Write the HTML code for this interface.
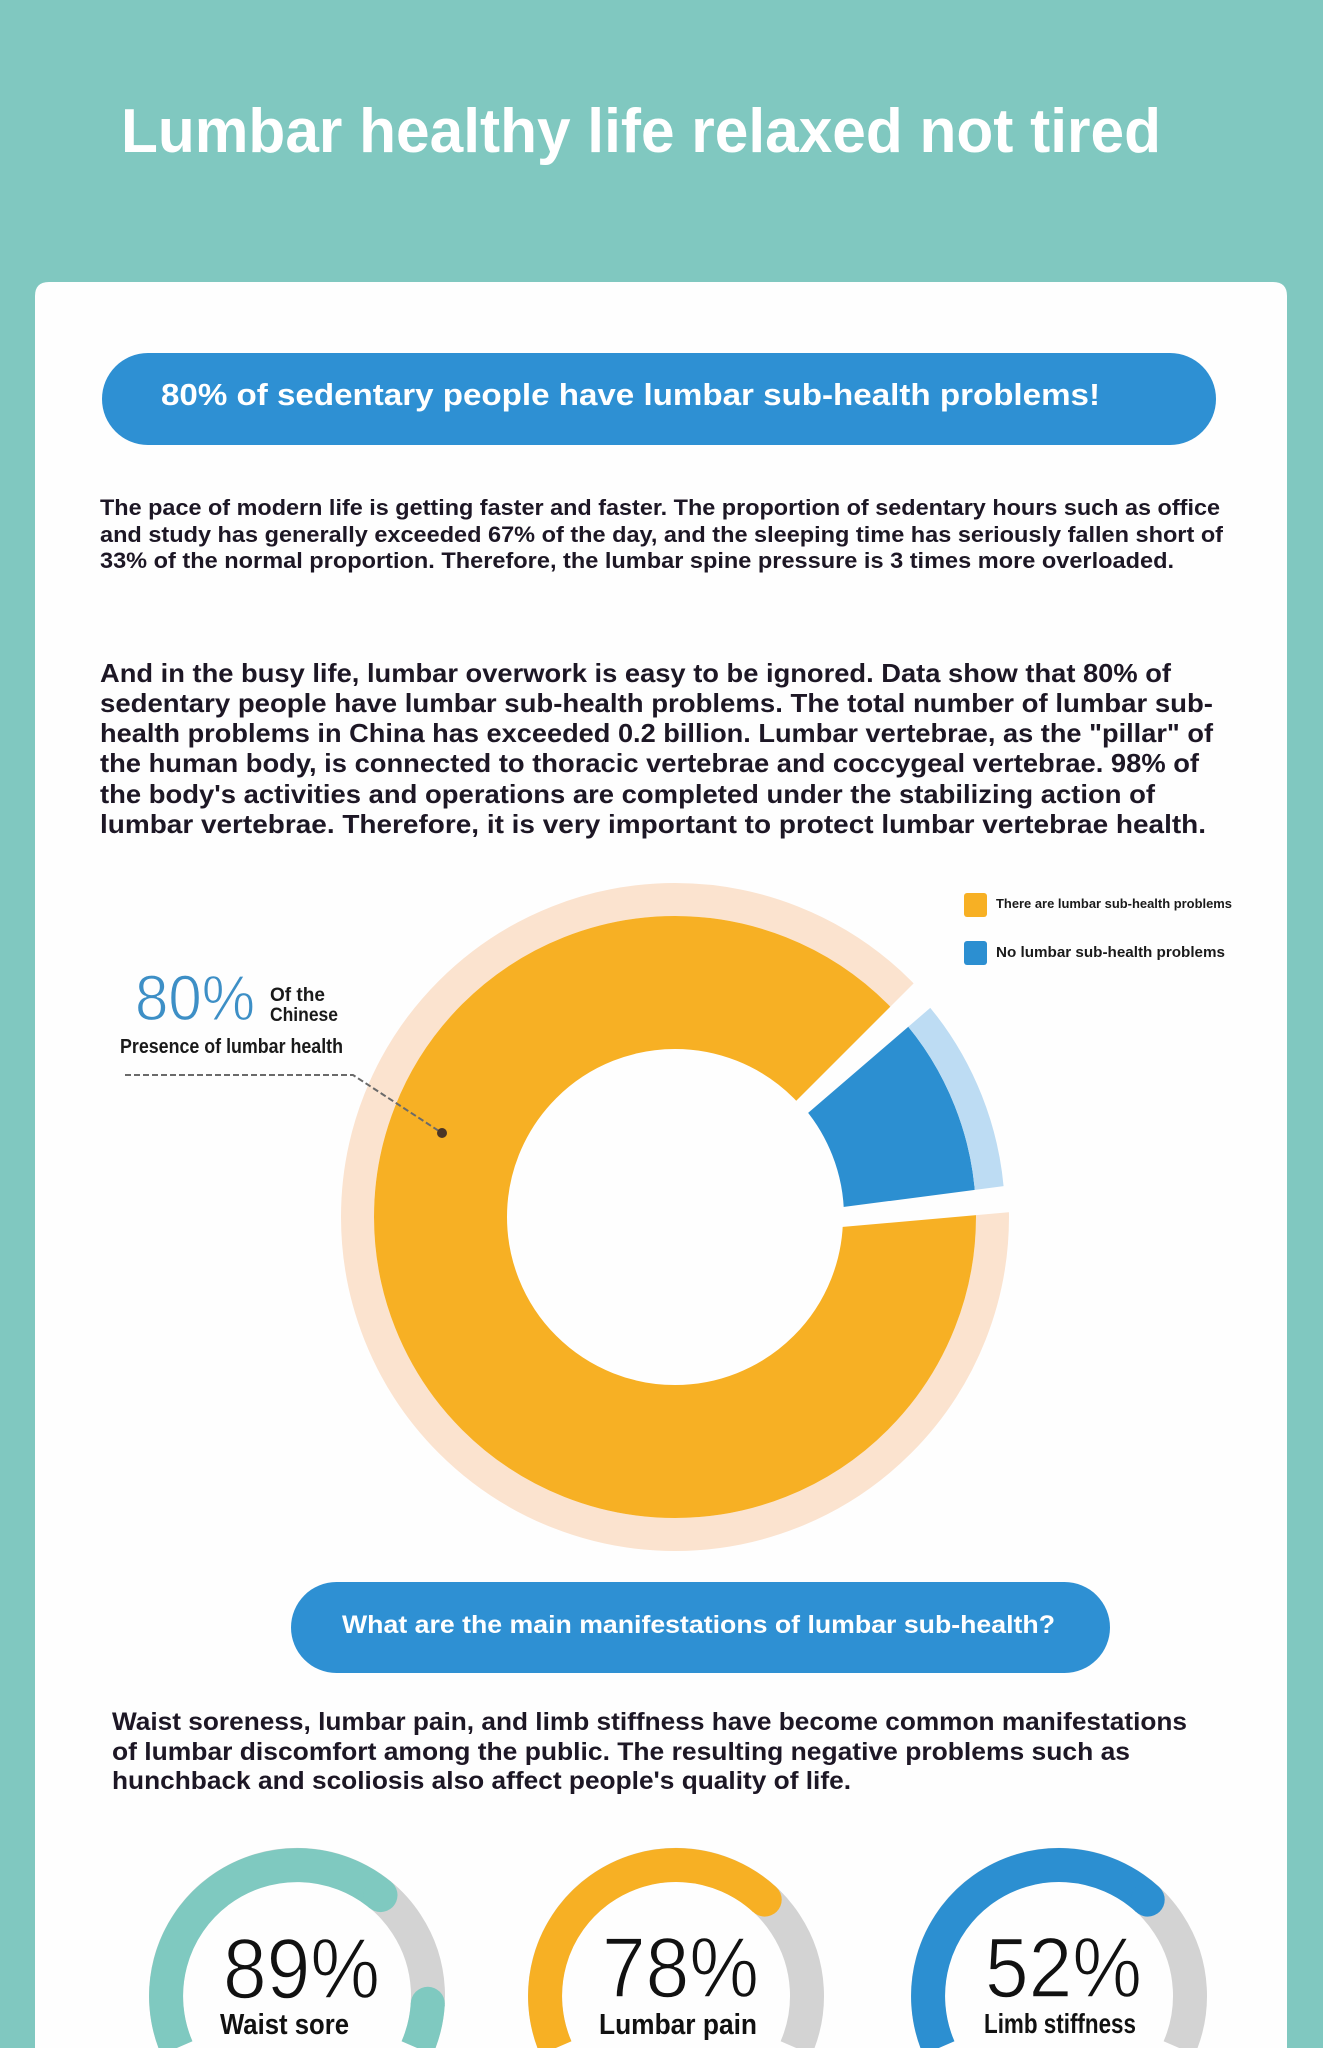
<!DOCTYPE html>
<html>
<head>
<meta charset="utf-8">
<style>
  html,body{margin:0;padding:0;background:#80c8c0;}
  body{width:1323px;height:2048px;overflow:hidden;}
  svg{display:block;}
  text{font-family:"Liberation Sans", Arial, sans-serif;}
  .b{font-weight:bold;}
  .p{fill:#1d1725;font-weight:bold;}
</style>
</head>
<body>
<svg width="1323" height="2048" viewBox="0 0 1323 2048" xmlns="http://www.w3.org/2000/svg">
  <defs>
    <clipPath id="bc"><polygon points="708,1199 958,984 1043,1030 1043,1181 713,1224"/></clipPath>
  </defs>
  <!-- background -->
  <rect width="1323" height="2048" fill="#80c8c0"/>
  <!-- title -->
  <text x="121" y="152" font-size="62" class="b" fill="#ffffff" textLength="1040" lengthAdjust="spacingAndGlyphs">Lumbar healthy life relaxed not tired</text>
  <!-- card (top corners rounded, runs to bottom edge) -->
  <path d="M35,296 Q35,282 49,282 L1273,282 Q1287,282 1287,296 L1287,2048 L35,2048 Z" fill="#fefefe"/>

  <!-- pill 1 -->
  <rect x="102" y="353" width="1114" height="92" rx="46" fill="#2e90d3"/>
  <text x="161" y="405" font-size="31" class="b" fill="#ffffff" textLength="939" lengthAdjust="spacingAndGlyphs">80% of sedentary people have lumbar sub-health problems!</text>

  <!-- paragraph 1 -->
  <g font-size="22">
    <text x="100" y="515" class="p" textLength="1120" lengthAdjust="spacingAndGlyphs">The pace of modern life is getting faster and faster. The proportion of sedentary hours such as office</text>
    <text x="100" y="542" class="p" textLength="1123" lengthAdjust="spacingAndGlyphs">and study has generally exceeded 67% of the day, and the sleeping time has seriously fallen short of</text>
    <text x="100" y="568" class="p" textLength="1074" lengthAdjust="spacingAndGlyphs">33% of the normal proportion. Therefore, the lumbar spine pressure is 3 times more overloaded.</text>
  </g>

  <!-- paragraph 2 -->
  <g font-size="26">
    <text x="100" y="682" class="p" textLength="1071" lengthAdjust="spacingAndGlyphs">And in the busy life, lumbar overwork is easy to be ignored. Data show that 80% of</text>
    <text x="100" y="712" class="p" textLength="1113" lengthAdjust="spacingAndGlyphs">sedentary people have lumbar sub-health problems. The total number of lumbar sub-</text>
    <text x="100" y="742" class="p" textLength="1113" lengthAdjust="spacingAndGlyphs">health problems in China has exceeded 0.2 billion. Lumbar vertebrae, as the "pillar" of</text>
    <text x="100" y="772" class="p" textLength="1099" lengthAdjust="spacingAndGlyphs">the human body, is connected to thoracic vertebrae and coccygeal vertebrae. 98% of</text>
    <text x="100" y="803" class="p" textLength="1055" lengthAdjust="spacingAndGlyphs">the body's activities and operations are completed under the stabilizing action of</text>
    <text x="100" y="833" class="p" textLength="1106" lengthAdjust="spacingAndGlyphs">lumbar vertebrae. Therefore, it is very important to protect lumbar vertebrae health.</text>
  </g>

  <!-- donut -->
  <circle cx="675" cy="1217" r="317.5" fill="none" stroke="#fbe3cf" stroke-width="33"/>
  <circle cx="675" cy="1217" r="234.5" fill="none" stroke="#f7b024" stroke-width="133"/>
  <polygon points="704,1193 927,970 1040,1000 1046,1209 706,1239" fill="#fefefe"/>
  <g clip-path="url(#bc)">
    <circle cx="675" cy="1217" r="235" fill="none" stroke="#2c8fd1" stroke-width="132"/>
    <circle cx="675" cy="1217" r="315.5" fill="none" stroke="#bddcf3" stroke-width="29"/>
  </g>

  <!-- leader -->
  <polyline points="125,1075 353,1075 442,1133" fill="none" stroke="#6a6a6a" stroke-width="2" stroke-dasharray="6 3"/>
  <circle cx="442" cy="1133" r="5" fill="#4b3526"/>

  <!-- 80% label -->
  <text x="135" y="1020" font-size="64" fill="#3d8fc6" stroke="#fefefe" stroke-width="1.2" textLength="120" lengthAdjust="spacingAndGlyphs">80%</text>
  <text x="270" y="1001" font-size="19" class="b" fill="#1a1a1a" textLength="55" lengthAdjust="spacingAndGlyphs">Of the</text>
  <text x="270" y="1021" font-size="19" class="b" fill="#1a1a1a" textLength="68" lengthAdjust="spacingAndGlyphs">Chinese</text>
  <text x="120" y="1053" font-size="20" class="b" fill="#1a1a1a" textLength="223" lengthAdjust="spacingAndGlyphs">Presence of lumbar health</text>

  <!-- legend -->
  <rect x="964" y="893" width="23" height="24" rx="3" fill="#f7b024"/>
  <text x="996" y="908" font-size="13" class="b" fill="#1a1a1a" textLength="236" lengthAdjust="spacingAndGlyphs">There are lumbar sub-health problems</text>
  <rect x="964" y="941" width="23" height="24" rx="3" fill="#2c8fd1"/>
  <text x="996" y="957" font-size="14.5" class="b" fill="#1a1a1a" textLength="229" lengthAdjust="spacingAndGlyphs">No lumbar sub-health problems</text>

  <!-- pill 2 -->
  <rect x="291" y="1582" width="819" height="91" rx="45.5" fill="#2e90d3"/>
  <text x="342" y="1633" font-size="25" class="b" fill="#ffffff" textLength="713" lengthAdjust="spacingAndGlyphs">What are the main manifestations of lumbar sub-health?</text>

  <!-- paragraph 3 -->
  <g font-size="25">
    <text x="112" y="1730" class="p" textLength="1075" lengthAdjust="spacingAndGlyphs">Waist soreness, lumbar pain, and limb stiffness have become common manifestations</text>
    <text x="112" y="1760" class="p" textLength="1018" lengthAdjust="spacingAndGlyphs">of lumbar discomfort among the public. The resulting negative problems such as</text>
    <text x="112" y="1789" class="p" textLength="739" lengthAdjust="spacingAndGlyphs">hunchback and scoliosis also affect people's quality of life.</text>
  </g>

  <!-- ring 1: 89% -->
  <path d="M176.8,2048 A131,131 0 1 1 417.2,2048" fill="none" stroke="#d3d3d3" stroke-width="34"/>
  <path d="M176.8,2048 A131,131 0 0 1 380.5,1895.1" fill="none" stroke="#7fc9c0" stroke-width="34"/>
  <circle cx="380.5" cy="1895.1" r="17" fill="#7fc9c0"/>
  <path d="M427.8,2003.8 A131,131 0 0 1 417.2,2048" fill="none" stroke="#7fc9c0" stroke-width="34"/>
  <circle cx="427.8" cy="2003.8" r="17" fill="#7fc9c0"/>
  <text x="223" y="1998" font-size="85" fill="#111" stroke="#fefefe" stroke-width="1.5" textLength="157" lengthAdjust="spacingAndGlyphs">89%</text>
  <text x="220" y="2034" font-size="29" class="b" fill="#111" textLength="129" lengthAdjust="spacingAndGlyphs">Waist sore</text>

  <!-- ring 2: 78% -->
  <path d="M555.8,2048 A131,131 0 1 1 796.2,2048" fill="none" stroke="#d3d3d3" stroke-width="34"/>
  <path d="M555.8,2048 A131,131 0 0 1 764.7,1899.6" fill="none" stroke="#f7b024" stroke-width="34"/>
  <circle cx="764.7" cy="1899.6" r="17" fill="#f7b024"/>
  <text x="602" y="1997" font-size="85" fill="#111" stroke="#fefefe" stroke-width="1.5" textLength="157" lengthAdjust="spacingAndGlyphs">78%</text>
  <text x="599" y="2034" font-size="29" class="b" fill="#111" textLength="158" lengthAdjust="spacingAndGlyphs">Lumbar pain</text>

  <!-- ring 3: 52% -->
  <path d="M938.8,2048 A131,131 0 1 1 1179.2,2048" fill="none" stroke="#d3d3d3" stroke-width="34"/>
  <path d="M938.8,2048 A131,131 0 0 1 1147.7,1899.6" fill="none" stroke="#2c8fd1" stroke-width="34"/>
  <circle cx="1147.7" cy="1899.6" r="17" fill="#2c8fd1"/>
  <text x="985" y="1997" font-size="85" fill="#111" stroke="#fefefe" stroke-width="1.5" textLength="157" lengthAdjust="spacingAndGlyphs">52%</text>
  <text x="984" y="2033" font-size="28" class="b" fill="#111" textLength="152" lengthAdjust="spacingAndGlyphs">Limb stiffness</text>
</svg>
</body>
</html>
